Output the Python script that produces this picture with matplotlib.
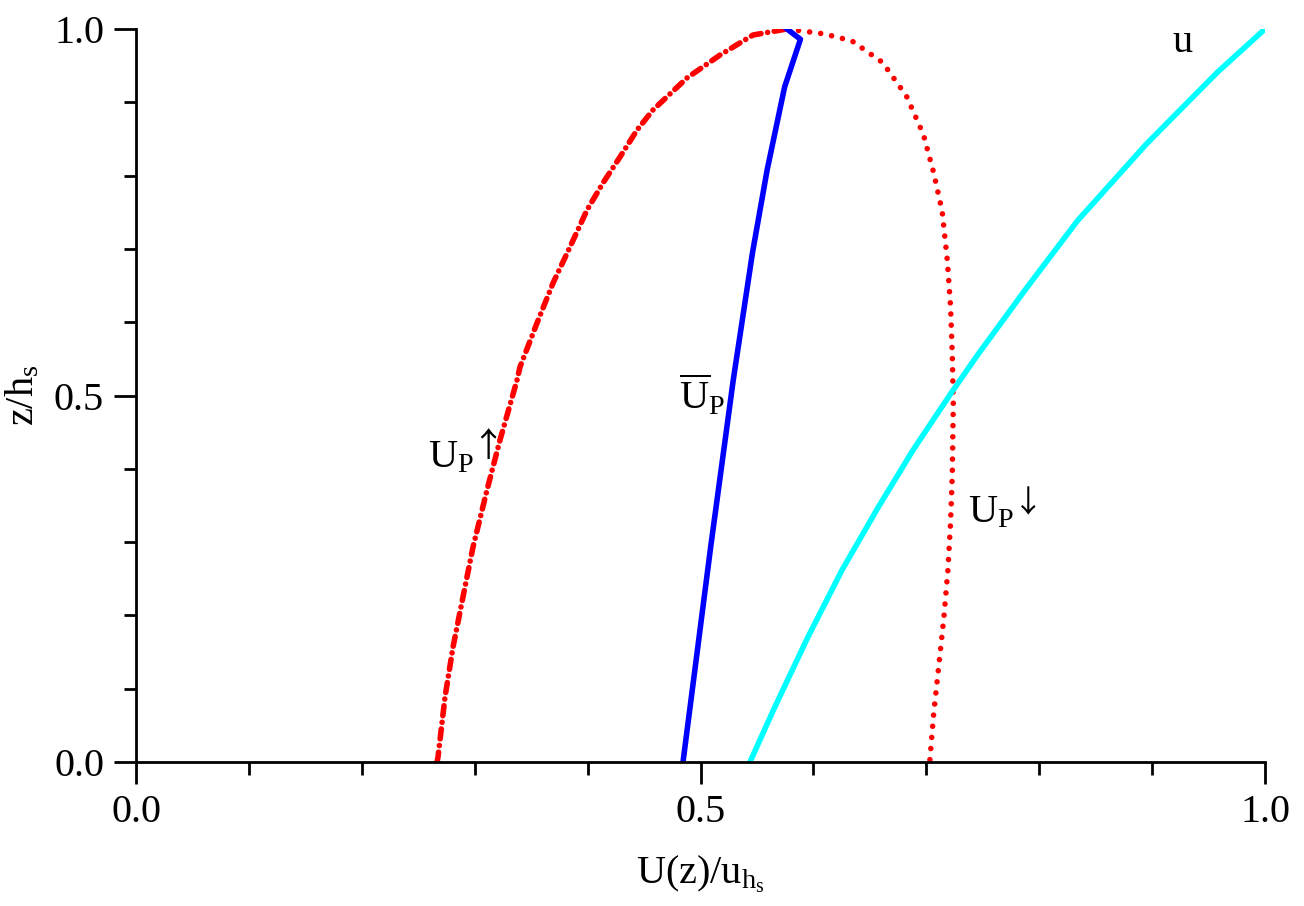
import numpy as np
import matplotlib
matplotlib.use("Agg")
from matplotlib import pyplot as plt
from matplotlib.ticker import MultipleLocator, FormatStrFormatter

# profiles (x = U(z)/u_hs, z = z/h_s)
# upward-moving particles (left branch)
z_up = [0.0, 0.0068, 0.0887, 0.1569, 0.2251, 0.2933, 0.3711, 0.4393, 0.5211, 0.5389, 0.5989,
        0.6535, 0.7026, 0.7531, 0.7899, 0.8254, 0.8622, 0.8895, 0.9332, 0.9645, 0.9918, 1.0]
u_up = [0.2666, 0.2675, 0.2737, 0.2808, 0.2896, 0.2985, 0.3109, 0.3224, 0.3375, 0.3401, 0.3552,
        0.3694, 0.3844, 0.3995, 0.4136, 0.4287, 0.4438, 0.4579, 0.4880, 0.5173, 0.5465, 0.5764]

# downward-moving particles (right branch)
z_down = [1.0, 0.9932, 0.9836, 0.9543, 0.9085, 0.8562, 0.8040, 0.7517, 0.6862, 0.6210, 0.5557,
          0.4903, 0.3922, 0.3269, 0.2615, 0.1962, 0.1308, 0.0655, 0.0]
u_down = [0.5770, 0.6101, 0.6342, 0.6613, 0.6824, 0.6974, 0.7065, 0.7140, 0.7185, 0.7215, 0.7230,
          0.7239, 0.7230, 0.7215, 0.7191, 0.7155, 0.7110, 0.7065, 0.7030]

# mean particle velocity
z_mean = [0.0, 0.2933, 0.5211, 0.6944, 0.8076, 0.9209, 0.9860, 1.0]
u_mean = [0.4845, 0.5090, 0.5290, 0.5460, 0.5590, 0.5745, 0.5885, 0.5766]

# fluid velocity
z_fluid = [0.0, 0.0720, 0.1701, 0.2615, 0.3465, 0.4250, 0.5034, 0.5557, 0.6471, 0.7386, 0.8432, 0.9412, 1.0]
u_fluid = [0.5438, 0.5649, 0.5950, 0.6252, 0.6570, 0.6880, 0.7220, 0.7456, 0.7890, 0.8340, 0.8950, 0.9580, 1.0]

plt.rcParams['font.family'] = 'serif'
plt.rcParams['font.serif'] = ['Liberation Serif', 'DejaVu Serif']
plt.rcParams['mathtext.fontset'] = 'custom'
plt.rcParams['mathtext.rm'] = 'Liberation Serif'
plt.rcParams['mathtext.it'] = 'Liberation Serif'

fig = plt.figure(figsize=(13.04, 9.06), dpi=100)
ax = fig.add_axes([0.1043, 0.1589, 0.8658, 0.8091])

ax.plot(u_up, z_up, color='red', lw=4, dash_capstyle='round',
        linestyle=(0, (1.8, 1.2, 0.01, 1.2)))
ax.plot(u_down, z_down, color='red', lw=4, dash_capstyle='round',
        linestyle=(0, (0.01, 2.0)))
ax.plot(u_mean, z_mean, color='blue', lw=4, solid_joinstyle='round')
ax.plot(u_fluid, z_fluid, color='cyan', lw=4, solid_joinstyle='round')

fs = 29
arrow_font = ['Noto Sans CJK JP', 'DejaVu Sans']
ax.text(0.927, 0.982, 'u', fontsize=fs, ha='center', va='center')
ax.text(0.279, 0.415, r'$\mathrm{U_P}$', fontsize=fs, ha='center', va='center')
ax.text(0.312, 0.430, '↑', fontsize=24, family=arrow_font, ha='center', va='center')
ax.text(0.501, 0.50, r'$\overline{\mathrm{U}}_\mathrm{P}$', fontsize=fs, ha='center', va='center')
ax.text(0.757, 0.340, r'$\mathrm{U_P}$', fontsize=fs, ha='center', va='center')
ax.text(0.790, 0.352, '↓', fontsize=22, family=arrow_font, ha='center', va='center')

ax.set_xlim(0, 1)
ax.set_ylim(0, 1)
for s in ['top', 'right']:
    ax.spines[s].set_visible(False)
for s in ['left', 'bottom']:
    ax.spines[s].set_linewidth(2)
ax.xaxis.set_major_locator(MultipleLocator(0.5))
ax.xaxis.set_minor_locator(MultipleLocator(0.1))
ax.yaxis.set_major_locator(MultipleLocator(0.5))
ax.yaxis.set_minor_locator(MultipleLocator(0.1))
ax.xaxis.set_major_formatter(FormatStrFormatter('%.1f'))
ax.yaxis.set_major_formatter(FormatStrFormatter('%.1f'))
ax.tick_params(which='major', direction='out', length=16, width=2, labelsize=fs, pad=7)
ax.tick_params(which='minor', direction='out', length=9, width=2)

ax.set_xlabel(r'$\mathrm{U(z)/u_{h_s}}$', fontsize=fs, labelpad=16)
ax.set_ylabel(r'$\mathrm{z/h_s}$', fontsize=fs, labelpad=8)

fig.savefig('out.png', dpi=100)
